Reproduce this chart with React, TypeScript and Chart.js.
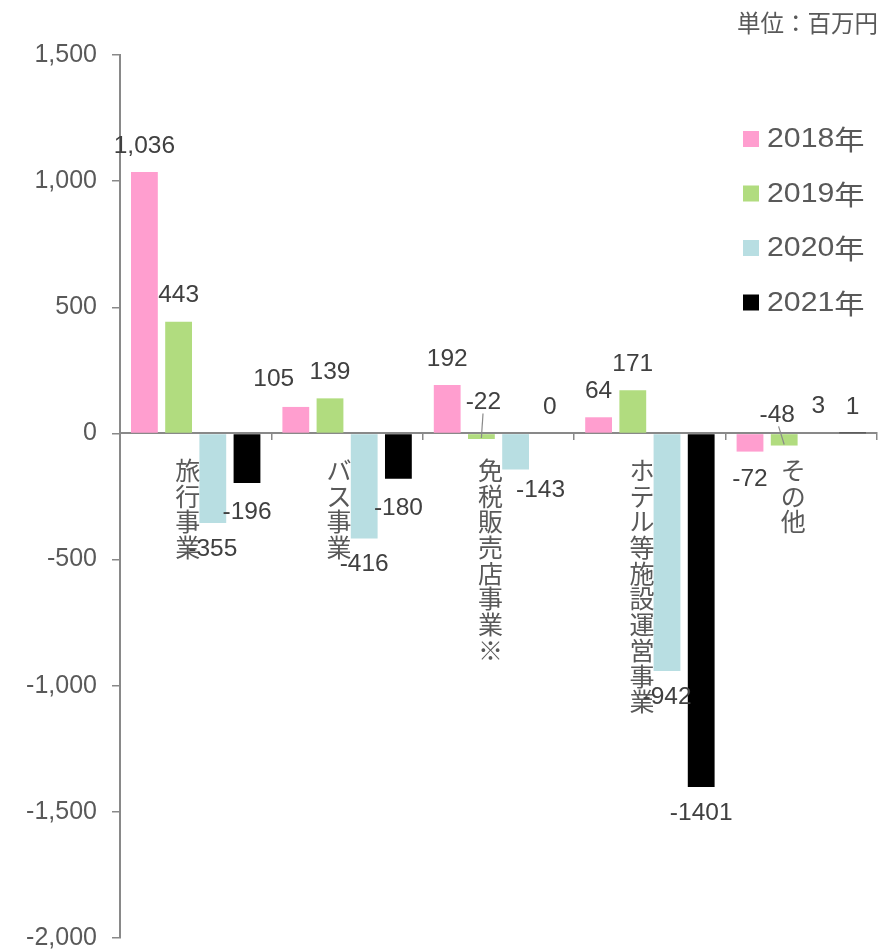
import { useEffect, useRef } from 'react';
import { Chart, registerables } from 'chart.js';

Chart.register(...registerables);

const categories = ['旅行事業', 'バス事業', '免税販売店事業※', 'ホテル等施設運営事業', 'その他'];
const seriesNames = ['2018年', '2019年', '2020年', '2021年'];
const values2018 = [1036, 105, 192, 64, -72];
const values2019 = [443, 139, -22, 171, -48];
const values2020 = [-355, -416, -143, -942, 3];
const values2021 = [-196, -180, 0, -1401, 1];
const seriesColors = ['#FF9ECF', '#B1DC7F', '#B8DEE2', '#000000'];
const unitText = '単位：百万円';

// label placement tweaks (dataset-index): dx, dy, aboveAxis (distance above zero line), leader
const labelTweaks: Record<string, { dx?: number; dy?: number; above?: number; leader?: boolean }> = {
  '0-1': { dx: -22, dy: -2 },
  '1-2': { dx: 2, above: 31, leader: true },
  '1-4': { dx: -7, above: 18, leader: true },
  '2-2': { dx: 25, dy: -5 },
  '3-1': { dy: 3 },
  '3-0': { dy: 3 },
  '0-4': { dy: 2 },
};

const fmt = (v: number) => (v > 0 ? v.toLocaleString('en-US') : String(v));

const GRAY = '#898989';
const TEXT = '#595959';
const LABEL = '#404040';
const NUM_FONT = "'Liberation Sans', Arial, sans-serif";
const CJK_FONT = "'Noto Sans CJK JP', sans-serif";

const overlay = {
  id: 'overlay',
  afterDatasetsDraw(chart: any) {
    const ctx = chart.ctx as CanvasRenderingContext2D;
    const xs = chart.scales.x;
    const ys = chart.scales.y;
    const zero = ys.getPixelForValue(0);
    ctx.save();

    // category labels, vertical
    ctx.fillStyle = TEXT;
    ctx.font = `25px ${CJK_FONT}`;
    ctx.textAlign = 'center';
    ctx.textBaseline = 'middle';
    categories.forEach((c, i) => {
      const x = xs.getPixelForValue(i) - 8;
      Array.from(c).forEach((ch, k) => ctx.fillText(ch, x, zero + 37 + k * 25.7));
    });

    // data labels
    ctx.font = `24.5px ${NUM_FONT}`;
    ctx.fillStyle = LABEL;
    chart.data.datasets.forEach((ds: any, di: number) => {
      const meta = chart.getDatasetMeta(di);
      meta.data.forEach((el: any, i: number) => {
        const v = ds.data[i] as number;
        const t = labelTweaks[`${di}-${i}`] || {};
        const x = el.x + (t.dx || 0);
        let y: number;
        if (t.above !== undefined) {
          y = zero - t.above;
        } else {
          y = (v >= 0 ? el.y - 26 : el.y + 26) + (t.dy || 0);
        }
        ctx.fillStyle = LABEL;
        ctx.fillText(fmt(v), x, y);
        if (t.leader) {
          ctx.strokeStyle = GRAY;
          ctx.lineWidth = 1.2;
          ctx.beginPath();
          ctx.moveTo(x + (el.x - x) * 0.2, y + 11);
          ctx.lineTo(el.x, el.y - 1);
          ctx.stroke();
        }
      });
    });

    // legend
    const lx = 743;
    const ly0 = 139;
    seriesNames.forEach((n, i) => {
      const cy = ly0 + i * 54.5;
      ctx.fillStyle = seriesColors[i];
      ctx.fillRect(lx, cy - 8, 16, 16);
      ctx.fillStyle = TEXT;
      ctx.textAlign = 'left';
      ctx.save();
      ctx.translate(lx + 24, cy + 1);
      ctx.scale(1.12, 1);
      ctx.font = `27px ${NUM_FONT}`;
      const num = n.replace('年', '');
      ctx.fillText(num, 0, 0);
      const w = ctx.measureText(num).width;
      ctx.font = `27px ${CJK_FONT}`;
      ctx.fillText('年', w, 0);
      ctx.restore();
    });

    // unit
    ctx.font = `23.5px ${CJK_FONT}`;
    ctx.fillStyle = TEXT;
    ctx.textAlign = 'right';
    ctx.fillText(unitText, 878, 23);

    ctx.restore();
  },
};

export default function App() {
  const ref = useRef<HTMLCanvasElement>(null);
  useEffect(() => {
    if (!ref.current) return;
    const chart = new Chart(ref.current, {
      type: 'bar',
      data: {
        labels: categories,
        datasets: [values2018, values2019, values2020, values2021].map((d, i) => ({
          label: seriesNames[i],
          data: d,
          backgroundColor: seriesColors[i],
          borderWidth: 0,
          categoryPercentage: 0.9035,
          barPercentage: 0.784,
        })),
      },
      options: {
        animation: false,
        responsive: false,
        maintainAspectRatio: false,
        layout: { padding: { left: 0, top: 55, right: 3, bottom: 12 } },
        plugins: { legend: { display: false }, tooltip: { enabled: false } },
        scales: {
          x: {
            type: 'category',
            position: { y: 0 } as any,
            offset: true,
            afterFit: (s: any) => {
              s.height = 0;
            },
            grid: {
              offset: true,
              drawOnChartArea: false,
              drawTicks: true,
              tickLength: 6,
              color: GRAY,
              lineWidth: 1.5,
            },
            border: { display: true, color: GRAY, width: 2 },
            ticks: { display: false },
          },
          y: {
            min: -2000,
            max: 1500,
            afterFit: (s: any) => {
              s.width = 120;
              s.paddingTop = 0;
              s.paddingBottom = 0;
            },
            ticks: {
              stepSize: 500,
              padding: 15,
              color: TEXT,
              font: { family: NUM_FONT, size: 25, lineHeight: 1 },
              callback: (v: any) => Number(v).toLocaleString('en-US'),
            },
            grid: {
              drawOnChartArea: false,
              drawTicks: true,
              tickLength: 8,
              color: GRAY,
              lineWidth: 1.5,
            },
            border: { display: true, color: GRAY, width: 2 },
          },
        },
      },
      plugins: [overlay],
    });
    return () => chart.destroy();
  }, []);
  return (
    <div style={{ position: 'absolute', left: 0, top: 0, width: 880, height: 950 }}>
      <canvas ref={ref} width={880} height={950} style={{ width: 880, height: 950 }} />
    </div>
  );
}
